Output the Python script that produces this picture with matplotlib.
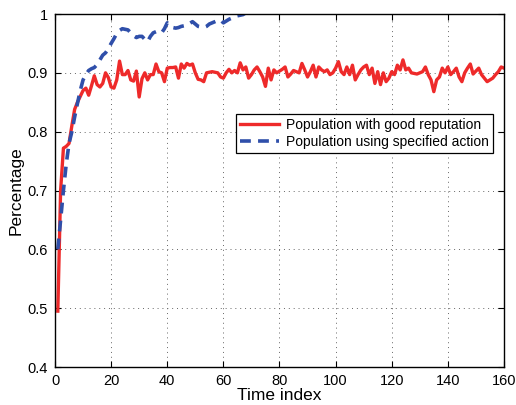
import numpy as np
import matplotlib
matplotlib.use("Agg")
import matplotlib.pyplot as plt

plt.rcParams["font.family"] = ["Liberation Sans", "DejaVu Sans"]

# population with good reputation, time index 1..160
good_rep = [
    0.495, 0.700, 0.772, 0.775, 0.780, 0.810, 0.838, 0.850, 0.860, 0.870,
    0.874, 0.862, 0.878, 0.895, 0.880, 0.876, 0.882, 0.900, 0.892, 0.876,
    0.874, 0.888, 0.920, 0.897, 0.897, 0.904, 0.888, 0.886, 0.903, 0.859,
    0.890, 0.900, 0.888, 0.897, 0.897, 0.915, 0.902, 0.900, 0.885, 0.908,
    0.909, 0.909, 0.910, 0.891, 0.915, 0.908, 0.916, 0.913, 0.915, 0.900,
    0.889, 0.888, 0.885, 0.900, 0.901, 0.902, 0.901, 0.900, 0.893, 0.891,
    0.900, 0.906, 0.900, 0.904, 0.900, 0.917, 0.905, 0.910, 0.891, 0.897,
    0.905, 0.910, 0.902, 0.893, 0.877, 0.908, 0.888, 0.905, 0.900, 0.903,
    0.906, 0.910, 0.893, 0.898, 0.904, 0.902, 0.900, 0.916, 0.905, 0.893,
    0.902, 0.913, 0.893, 0.910, 0.905, 0.902, 0.905, 0.897, 0.900, 0.908,
    0.919, 0.902, 0.897, 0.910, 0.897, 0.913, 0.888, 0.897, 0.905, 0.910,
    0.913, 0.897, 0.908, 0.882, 0.902, 0.880, 0.900, 0.885, 0.891, 0.902,
    0.897, 0.913, 0.905, 0.922, 0.905, 0.908, 0.900, 0.899, 0.898, 0.900,
    0.902, 0.910, 0.897, 0.888, 0.868, 0.888, 0.893, 0.908, 0.900, 0.910,
    0.897, 0.902, 0.908, 0.893, 0.885, 0.900, 0.908, 0.915, 0.898, 0.903,
    0.908, 0.897, 0.891, 0.885, 0.888, 0.891, 0.897, 0.902, 0.910, 0.908,
]

# population using specified action, time index 1..68 (then at 1.0 under the frame)
spec_action = [
    0.600, 0.650, 0.700, 0.745, 0.780, 0.800, 0.825, 0.848, 0.870, 0.888,
    0.897, 0.904, 0.907, 0.909, 0.914, 0.922, 0.930, 0.934, 0.941, 0.950,
    0.958, 0.967, 0.972, 0.975, 0.974, 0.973, 0.968, 0.963, 0.960, 0.962,
    0.962, 0.957, 0.953, 0.962, 0.968, 0.970, 0.970, 0.968, 0.975, 0.985,
    0.981, 0.977, 0.976, 0.977, 0.979, 0.980, 0.981, 0.984, 0.987, 0.983,
    0.979, 0.978, 0.977, 0.979, 0.983, 0.985, 0.987, 0.989, 0.990, 0.985,
    0.988, 0.991, 0.993, 0.995, 0.997, 0.998, 0.999, 1.002,
]

t_good = np.arange(1, len(good_rep) + 1)
t_spec = np.arange(1, len(spec_action) + 1)

fig = plt.figure(figsize=(5.16, 4.05), dpi=100)
ax = fig.add_axes([0.1066, 0.0938, 0.8701, 0.8716])

ax.plot(t_good, good_rep, color="#EE2A2A", lw=2.4,
        label="Population with good reputation")
ax.plot(t_spec, spec_action, color="#2F4FAA", lw=2.6, ls=(0, (3.0, 2.0)),
        label="Population using specified action")

ax.set_xlim(0, 160)
ax.set_ylim(0.4, 1.0)
ax.set_xticks(np.arange(0, 161, 20))
ax.set_yticks(np.arange(0.4, 1.01, 0.1))
ax.set_yticklabels(["0.4", "0.5", "0.6", "0.7", "0.8", "0.9", "1"])
ax.tick_params(direction="in", top=True, right=True, labelsize=10.5,
               length=4, width=0.8, colors="black", pad=5)
ax.grid(True, ls=(0, (1, 4)), color="#666666", lw=0.7)
for s in ax.spines.values():
    s.set_linewidth(1.0)

ax.set_xlabel("Time index", fontsize=12.5, labelpad=0)
ax.set_ylabel("Percentage", fontsize=12.5, labelpad=3)

leg = ax.legend(loc="upper right", bbox_to_anchor=(0.976, 0.717),
                borderaxespad=0, fancybox=False, framealpha=1,
                edgecolor="black", fontsize=10, handlelength=2.8,
                borderpad=0.3, labelspacing=0.2, handletextpad=0.5)
leg.get_frame().set_linewidth(0.9)

fig.savefig("out.png", dpi=100)
